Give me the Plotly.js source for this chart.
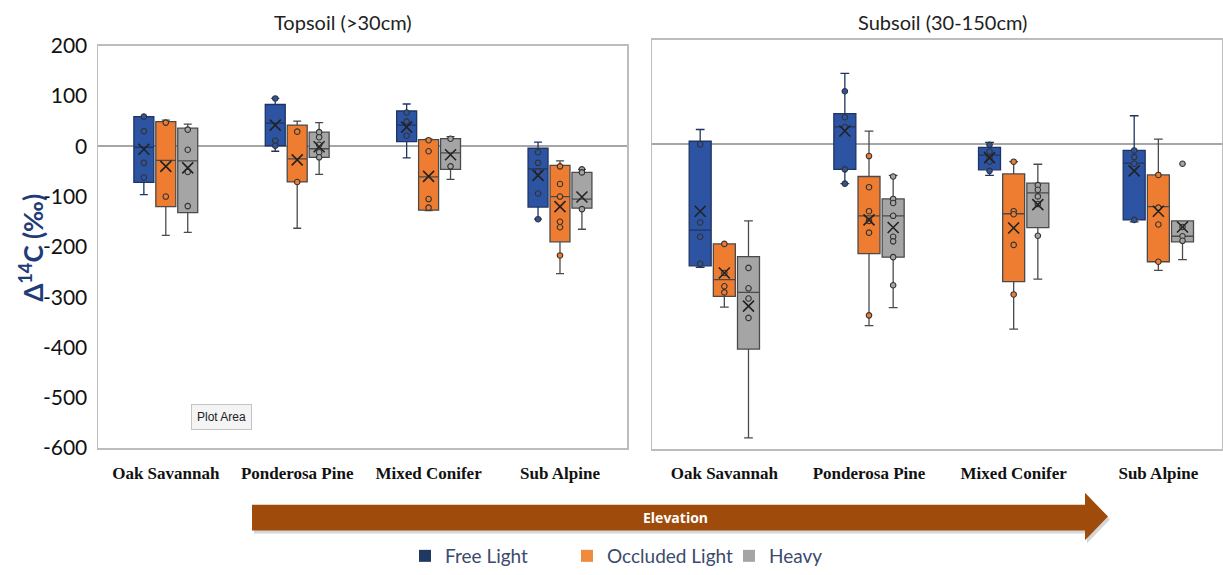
<!DOCTYPE html>
<html><head><meta charset="utf-8">
<script src="https://cdn.plot.ly/plotly-3.0.1.min.js"></script>
<style>html,body{margin:0;padding:0;background:#fff}#chart{width:1223px;height:575px}</style>
</head><body><div id="chart"></div>
<script>
// ---------- DATA ----------
const categories = ["Oak Savannah", "Ponderosa Pine", "Mixed Conifer", "Sub Alpine"];
const seriesNames = ["Free Light", "Occluded Light", "Heavy"];
const panelTitles = ["Topsoil (>30cm)", "Subsoil (30-150cm)"];
const yTickValues = [200, 100, 0, -100, -200, -300, -400, -500, -600];
const yTickLabels = ["200", "100", "0", "-100", "-200", "-300", "-400", "-500", "-600"];

// Topsoil (>30cm): [series][category]
const topQ1     = [[-72, 1, 9, -121], [-120, -71, -127, -190], [-132, -22, -46, -123]];
const topMedian = [[-2, 46, 42, -45], [-28, -25, -61, -100], [-29, -5, -13, -105]];
const topQ3     = [[59, 83, 70, -4], [49, 42, 13, -38], [36, 28, 15, -52]];
const topLow    = [[-96, -10, -23, -145], [-177, -163, -128, -253], [-171, -56, -66, -165]];
const topHigh   = [[59, 95, 84, 8], [52, 50, 14, -29], [44, 47, 19, -46]];
const topMean   = [[-6, 42, 38, -58], [-40, -27, -60, -120], [-43, -1, -17, -101]];
const topPoints = [
  [[59, 30, -33, -62], [95, 11, 1], [67, 49, 21], [-12, -33, -50, -94, -145]],
  [[47, -100], [29, -71], [12, -10, -105, -122], [-40, -75, -100, -150, -161, -217]],
  [[33, -7, -51, -119], [28, 18, 3, -12, -22], [15, -40], [-46, -52, -125]]
];

// Subsoil (30-150cm): [series][category]
const subQ1     = [[-239, -50, -51, -149], [-299, -215, -270, -231], [-402, -222, -164, -192]];
const subMedian = [[-169, 33, -22, -38], [-266, -141, -137, -123], [-291, -141, -96, -181]];
const subQ3     = [[5, 59, -7, -13], [-196, -64, -59, -61], [-221, -108, -77, -151]];
const subLow    = [[-242, -78, -62, -153], [-320, -356, -363, -248], [-576, -321, -265, -227]];
const subHigh   = [[28, 138, 3, 55], [-196, 25, -35, 9], [-151, -62, -40, -151]];
const subMean   = [[-132, 25, -27, -53], [-253, -149, -165, -132], [-318, -164, -119, -163]];
const subPoints = [
  [[-1, -154, -182, -235], [103, 52, 33, -50, -78], [-2, -15, -27, -35, -53], [-13, -26, -39, -149]],
  [[-196, -253, -279, -291], [-24, -85, -132, -151, -174, -336], [-35, -132, -138, -198, -295], [-61, -125, -158, -231]],
  [[-243, -283, -303, -341], [-64, -108, -116, -141, -182, -191, -222, -277], [-81, -90, -103, -118, -180], [-39, -163, -181, -190]]
];

// ---------- STYLE ----------
const W = 1223, H = 575, K = 1.009;
const boxFill = ["#2C54A3", "#EE7D31", "#A5A5A5"];
const boxLine = ["#1E3462", "#4A4A4A", "#4A4A4A"];
const legendColors = ["#1F3864", "#F08A3C", "#A5A5A5"];
const GROUP_OFFSET = 0.167, BOX_W = 0.152;

const panels = [
  {q1: topQ1, med: topMedian, q3: topQ3, lo: topLow, hi: topHigh, mean: topMean, pts: topPoints, xa: "x", ya: "y"},
  {q1: subQ1, med: subMedian, q3: subQ3, lo: subLow, hi: subHigh, mean: subMean, pts: subPoints, xa: "x2", ya: "y2"}
];

const traces = [];
panels.forEach(p => {
  seriesNames.forEach((name, s) => {
    const pos = categories.map((c, i) => i + (s - 1) * GROUP_OFFSET);
    traces.push({
      type: "box", name: name, x: pos,
      q1: p.q1[s], median: p.med[s], q3: p.q3[s],
      lowerfence: p.lo[s], upperfence: p.hi[s],
      width: BOX_W, whiskerwidth: 0.4, boxpoints: false,
      fillcolor: boxFill[s], line: {color: boxLine[s], width: 1.3},
      xaxis: p.xa, yaxis: p.ya, showlegend: false, hoverinfo: "skip"
    });
    const px = [], py = [];
    p.pts[s].forEach((arr, i) => arr.forEach(v => { px.push(pos[i]); py.push(v); }));
    traces.push({
      type: "scatter", mode: "markers", x: px, y: py, xaxis: p.xa, yaxis: p.ya,
      marker: {symbol: "circle", size: 5.5, color: boxFill[s], line: {color: "#333", width: 1.1}},
      showlegend: false, hoverinfo: "skip"
    });
    traces.push({
      type: "scatter", mode: "markers", x: pos, y: p.mean[s], xaxis: p.xa, yaxis: p.ya,
      marker: {symbol: "x-thin-open", size: 11, color: "#222", line: {color: "#222", width: 1.6}},
      showlegend: false, hoverinfo: "skip"
    });
  });
});
// legend entries
seriesNames.forEach((name, s) => {
  traces.push({
    type: "scatter", mode: "markers", name: name, x: [null], y: [null],
    marker: {symbol: "square", size: 12, color: legendColors[s]},
    xaxis: "x", yaxis: "y", showlegend: true, hoverinfo: "skip"
  });
});

const fx = v => v / W, fy = v => 1 - (v * K) / H;
const axisCommon = {showline: true, mirror: true, linecolor: "#BDBDBD", linewidth: 1.5,
  showgrid: false, zeroline: false, automargin: false, fixedrange: true};

function arrowPath(dx, dy) {
  const pts = [[252, 509], [1085, 509], [1085, 497], [1108, 521], [1085, 545], [1085, 535], [252, 535]];
  return "M" + pts.map(q => fx(q[0] + dx) + "," + fy(q[1] + dy)).join(" L") + " Z";
}
const ann = (text, x, y, font, extra) => Object.assign({text: text, xref: "paper", yref: "paper",
  x: fx(x), y: fy(y), xanchor: "center", yanchor: "middle", showarrow: false, font: font}, extra || {});

const layout = {
  width: W, height: H, margin: {l: 0, r: 0, t: 0, b: 0},
  paper_bgcolor: "#fff", plot_bgcolor: "#fff",
  boxmode: "overlay", showlegend: true,
  font: {family: "Lato, 'Open Sans', sans-serif", color: "#111"},
  xaxis: Object.assign({}, axisCommon, {domain: [fx(98), fx(627)], range: [-0.516, 3.51],
    tickvals: [0, 1, 2, 3], ticktext: categories, ticks: "", ticklabelstandoff: 9,
    tickfont: {family: "'Liberation Serif', serif", size: 17, weight: "bold", color: "#111"}}),
  yaxis: Object.assign({}, axisCommon, {domain: [fy(452), fy(46)], range: [-600, 200],
    tickvals: yTickValues, ticktext: yTickLabels, ticks: "", ticklabelstandoff: 5,
    zeroline: true, zerolinecolor: "#A6A6A6", zerolinewidth: 1.5,
    tickfont: {family: "Lato, sans-serif", size: 21, color: "#111"}}),
  xaxis2: Object.assign({}, axisCommon, {domain: [fx(652), fx(1222)], range: [-0.5, 3.44], anchor: "y2",
    tickvals: [0, 1, 2, 3], ticktext: categories, ticks: "", ticklabelstandoff: 8,
    tickfont: {family: "'Liberation Serif', serif", size: 17, weight: "bold", color: "#111"}}),
  yaxis2: Object.assign({}, axisCommon, {domain: [fy(453), fy(40)], range: [-598, 204], anchor: "x2",
    showticklabels: false, ticks: "",
    zeroline: true, zerolinecolor: "#A6A6A6", zerolinewidth: 1.5}),
  legend: {orientation: "h", x: fx(405), xanchor: "left", y: fy(561), yanchor: "middle",
    entrywidth: 117, entrywidthmode: "pixels",
    font: {family: "Lato, sans-serif", size: 19, color: "#3B4A6E"}, itemwidth: 30,
    bgcolor: "rgba(0,0,0,0)"},
  shapes: [
    {type: "path", xref: "paper", yref: "paper", path: arrowPath(2, 3), fillcolor: "rgba(0,0,0,0.16)", line: {width: 0}, layer: "below"},
    {type: "path", xref: "paper", yref: "paper", path: arrowPath(0, 0), fillcolor: "#9E4B0B", line: {width: 0}}
  ],
  annotations: [
    ann(panelTitles[0], 343, 22, {family: "Lato, sans-serif", size: 20, color: "#222"}),
    ann(panelTitles[1], 942, 22, {family: "Lato, sans-serif", size: 20, color: "#222"}),
    ann("<b>Δ<sup>14</sup>C (‰)</b>", 32, 250, {family: "Lato, sans-serif", size: 26, color: "#1F3B78"}, {textangle: -90}),
    ann("<b>Elevation</b>", 675, 522, {family: "'Open Sans', sans-serif", size: 14, color: "#FFFFFF"}),
    ann("Plot Area", 222, 421, {family: "'Liberation Sans', Arial, sans-serif", size: 12, color: "#222"},
      {bgcolor: "#F4F4F4", bordercolor: "#C4C4C4", borderwidth: 1, borderpad: 5})
  ]
};

Plotly.newPlot("chart", traces, layout, {displayModeBar: false, staticPlot: true});
</script>
</body></html>
